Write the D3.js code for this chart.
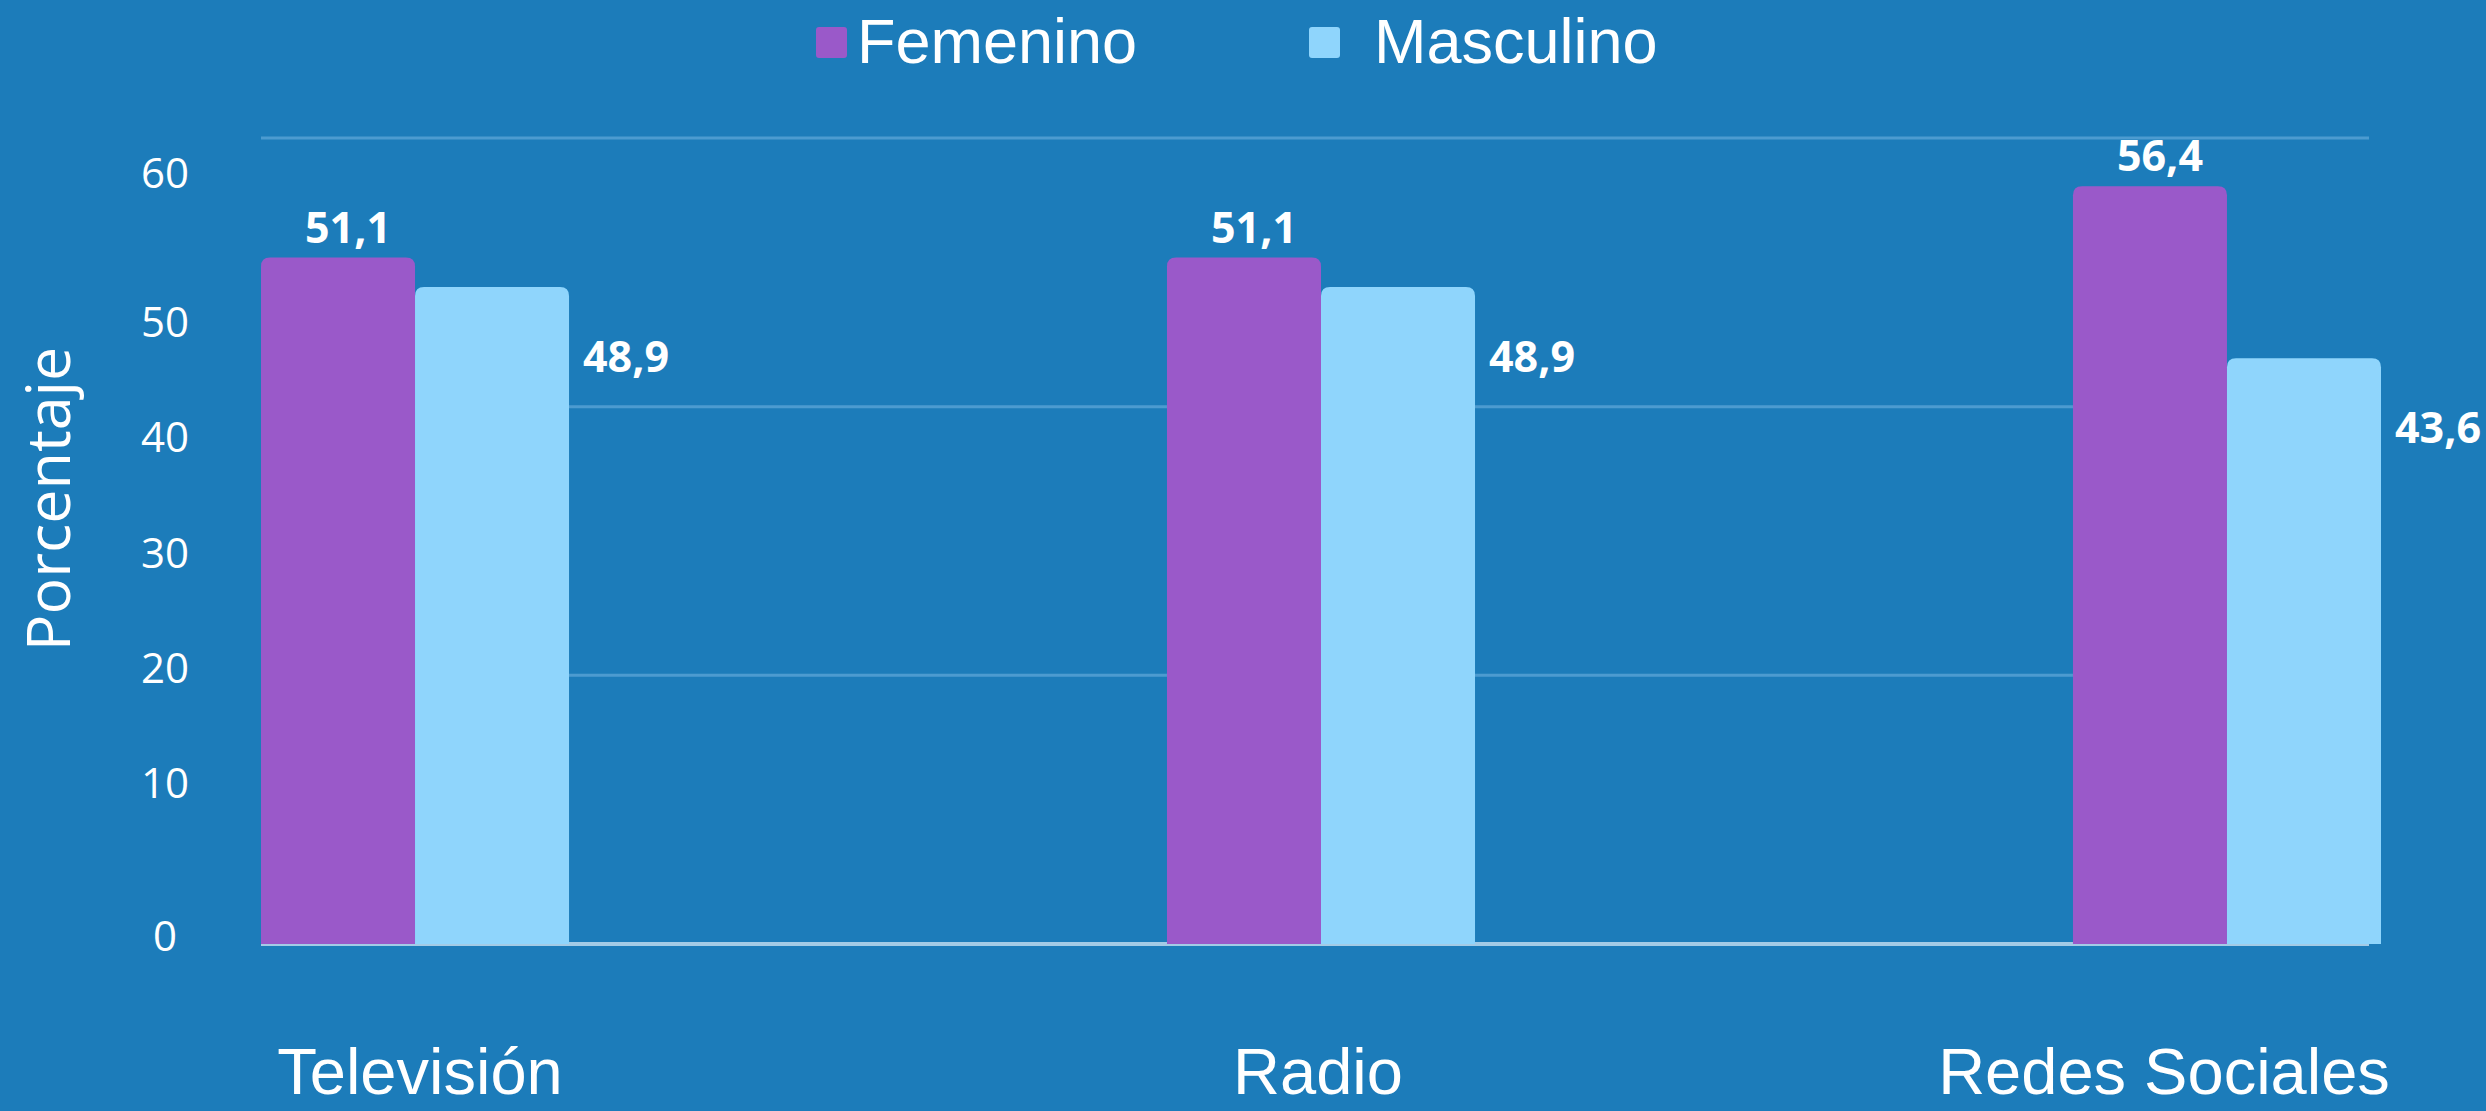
<!DOCTYPE html>
<html>
<head>
<meta charset="utf-8">
<script src="https://cdn.jsdelivr.net/npm/d3@7"></script>
<style>
  body { margin: 0; background: #1c7cba; }
  svg { display: block; }
</style>
</head>
<body>
<div id="chart"></div>
<script>
// Data
const categories = ["Televisión", "Radio", "Redes Sociales"];
const series = ["Femenino", "Masculino"];
const femenino = [51.1, 51.1, 56.4];
const masculino = [48.9, 48.9, 43.6];
const tickValues = [0, 10, 20, 30, 40, 50, 60];
const gridValues = [0, 20, 40, 60];

const width = 2486, height = 1111;
const colors = { Femenino: "#9a59c9", Masculino: "#8fd5fc" };

const svg = d3.select("#chart").append("svg")
    .attr("width", width)
    .attr("height", height);

svg.append("rect")
    .attr("width", width)
    .attr("height", height)
    .attr("fill", "#1c7cba");

// Scales
const x0 = d3.scaleBand()
    .domain(categories)
    .range([261, 2381])
    .paddingInner(0.66);

const x1 = d3.scaleBand()
    .domain(series)
    .range([0, x0.bandwidth()]);

const y = d3.scaleLinear()
    .domain([0, 60])
    .range([944, 138]);

// the printed tick labels are not evenly spaced in the original
const yTick = d3.scaleLinear()
    .domain([0, 10, 50, 60])
    .range([940, 787, 326, 177]);

// category labels sit a little off the bar groups
const xLabel = d3.scaleOrdinal()
    .domain(categories)
    .range([420, 1318, 2164]);

const esLocale = d3.formatLocale({ decimal: ",", thousands: ".", grouping: [3], currency: ["", " €"] });
const fmt = esLocale.format(".1f");

// Gridlines (behind bars)
svg.append("g")
  .selectAll("line")
  .data(gridValues)
  .join("line")
    .attr("x1", 261)
    .attr("x2", 2369)
    .attr("y1", d => y(d))
    .attr("y2", d => y(d))
    .attr("stroke", d => d === 0 ? "#a3cbe6" : "#4c9bd0")
    .attr("stroke-width", d => d === 0 ? 4 : 3);

// Y tick labels
svg.append("g")
  .selectAll("text")
  .data(tickValues)
  .join("text")
    .attr("x", 165)
    .attr("y", d => yTick(d))
    .attr("text-anchor", "middle")
    .attr("dominant-baseline", "middle")
    .attr("fill", "#ffffff")
    .style("font-family", "'Open Sans', sans-serif")
    .style("font-size", "42px")
    .text(d => d);

// Y axis title
svg.append("text")
    .attr("transform", "translate(70,499) rotate(-90)")
    .attr("text-anchor", "middle")
    .attr("fill", "#ffffff")
    .style("font-family", "'Open Sans', sans-serif")
    .style("font-size", "61px")
    .text("Porcentaje");

// Bars with rounded tops
function topRoundedBar(x, yTop, w, h, r) {
    r = Math.min(r, w / 2, h);
    return `M${x},${yTop + h}V${yTop + r}Q${x},${yTop} ${x + r},${yTop}` +
           `H${x + w - r}Q${x + w},${yTop} ${x + w},${yTop + r}V${yTop + h}Z`;
}

const rows = categories.map((c, i) => ({
    category: c,
    values: [
        { key: "Femenino", value: femenino[i] },
        { key: "Masculino", value: masculino[i] }
    ]
}));

const groups = svg.append("g")
  .selectAll("g")
  .data(rows)
  .join("g")
    .attr("transform", d => `translate(${x0(d.category)},0)`);

groups.selectAll("path")
  .data(d => d.values)
  .join("path")
    .attr("d", d => topRoundedBar(x1(d.key), y(d.value), x1.bandwidth(), y(0) - y(d.value), 9))
    .attr("fill", d => colors[d.key]);

// Value labels
groups.selectAll("text")
  .data(d => d.values)
  .join("text")
    .attr("x", d => d.key === "Femenino"
        ? x1(d.key) + x1.bandwidth() / 2 + 10
        : x1(d.key) + x1.bandwidth() + 14)
    .attr("y", d => d.key === "Femenino" ? y(d.value) - 15 : y(d.value) + 85)
    .attr("text-anchor", d => d.key === "Femenino" ? "middle" : "start")
    .attr("fill", "#ffffff")
    .style("font-family", "'Open Sans', sans-serif")
    .style("font-weight", "700")
    .style("font-size", "43px")
    .text(d => fmt(d.value));

// Category labels
svg.append("g")
  .selectAll("text")
  .data(categories)
  .join("text")
    .attr("x", d => xLabel(d))
    .attr("y", 1094)
    .attr("text-anchor", "middle")
    .attr("fill", "#ffffff")
    .style("font-family", "'Liberation Sans', Arial, sans-serif")
    .style("font-size", "65px")
    .text(d => d);

// Legend
const legendX = [816, 1309];
const legendText = [857, 1374];
const legend = svg.append("g")
  .selectAll("g")
  .data(series)
  .join("g");

legend.append("rect")
    .attr("x", (d, i) => legendX[i])
    .attr("y", 27)
    .attr("width", 31)
    .attr("height", 31)
    .attr("rx", 3)
    .attr("fill", d => colors[d]);

legend.append("text")
    .attr("x", (d, i) => legendText[i])
    .attr("y", 63)
    .attr("fill", "#ffffff")
    .style("font-family", "'Liberation Sans', Arial, sans-serif")
    .style("font-size", "63px")
    .text(d => d);
</script>
</body>
</html>
